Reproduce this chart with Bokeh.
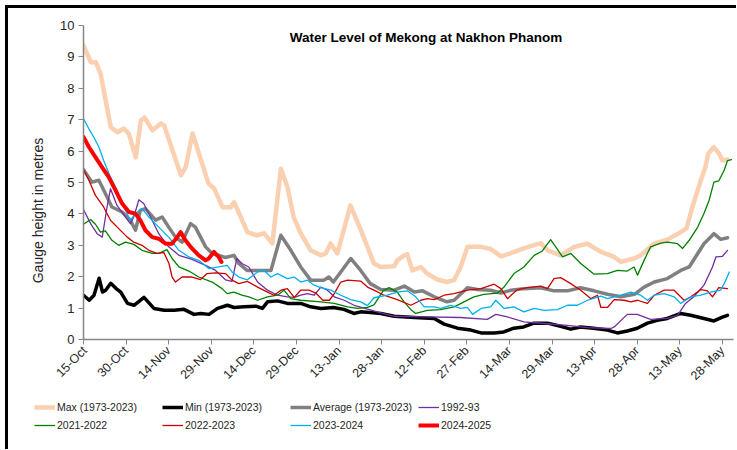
import math
from bokeh.plotting import figure
from bokeh.layouts import column, row
from bokeh.models import Range1d, FixedTicker, Label, Legend, LegendItem
from bokeh.embed import file_html
from bokeh.resources import INLINE

# ---- data (day 0 = 15-Oct) ----
tick_days = [0, 15, 30, 45, 60, 75, 90, 105, 120, 135, 150, 165, 180, 195, 210, 225]
tick_labels = ["15-Oct", "30-Oct", "14-Nov", "29-Nov", "14-Dec", "29-Dec", "13-Jan", "28-Jan",
               "12-Feb", "27-Feb", "14-Mar", "29-Mar", "13-Apr", "28-Apr", "13-May", "28-May"]

max_day = [0, 2.6, 4.3, 6, 9.6, 12, 14.2, 16, 18.4, 20.2, 21.5, 24.3, 27.2, 28.4, 34.3, 36, 38.4, 44, 46, 49,
           51.9, 53, 55.4, 57.7, 61, 63.6, 66.5, 69.5, 71.8, 74, 76.5, 80, 83.6, 85.3, 87, 89.4, 94, 97.6,
           102.3, 104.7, 109.4, 110.5, 112.9, 114, 115.8, 118.8, 121, 124.6, 128, 130.5, 132.8, 135.2, 140,
           143.4, 147, 150.5, 155, 161, 163.4, 168, 172.8, 177.5, 182.2, 186.9, 189.2, 193.9, 196.2, 200.9,
           205.6, 210.3, 212.4, 214.4, 217.4, 219, 220, 222, 223.8, 225, 226.8]
max_val = [9.36, 8.83, 8.83, 8.47, 6.76, 6.6, 6.72, 6.55, 5.8, 6.98, 7.07, 6.66, 6.88, 6.82, 5.23, 5.49, 6.56, 4.97,
           4.81, 4.21, 4.21, 4.37, 3.9, 3.42, 3.32, 3.38, 3.06, 5.44, 4.86, 3.9, 3.38, 2.84, 2.68, 2.74, 3.06,
           2.74, 4.27, 3.5, 2.42, 2.31, 2.33, 2.52, 2.68, 2.72, 2.2, 2.31, 2.1, 1.91, 1.83, 1.89, 2.31, 2.95,
           2.95, 2.88, 2.65, 2.75, 2.9, 3.07, 2.84, 2.68, 2.95, 3.05, 2.79, 2.63, 2.47, 2.58, 2.68, 3.05, 3.18,
           3.42, 3.55, 4.22, 5.07, 5.49, 5.92, 6.13, 5.92, 5.7, 5.73]

min_day = [0, 2, 3.7, 5.5, 6.7, 7.8, 9.6, 11.4, 13.1, 15.5, 17.8, 21.3, 24.8, 28.4, 31.9, 35.4, 38.9, 41.3, 44.2,
           47.2, 50.7, 53, 56.5, 60.7, 63, 64.8, 68.3, 71.8, 76.5, 80, 83.6, 88, 91.7, 95.2, 97.6, 101, 104.7,
           109.4, 116.5, 123.5, 127, 131.7, 136.4, 140, 144.6, 148, 151.5, 155, 158.6, 163.4, 168, 171.6, 175,
           179.6, 184.5, 188, 191.5, 195, 198.6, 202, 205.6, 210.3, 213.8, 218.5, 222, 225, 226.8]
min_val = [1.41, 1.25, 1.41, 1.95, 1.51, 1.57, 1.79, 1.63, 1.51, 1.15, 1.09, 1.34, 0.99, 0.93, 0.93, 0.96, 0.8, 0.83,
           0.8, 0.99, 1.09, 1.02, 1.04, 1.06, 0.99, 1.2, 1.23, 1.15, 1.15, 1.04, 0.99, 1.02, 0.96, 0.83, 0.88,
           0.86, 0.83, 0.74, 0.7, 0.67, 0.49, 0.36, 0.3, 0.21, 0.21, 0.24, 0.36, 0.4, 0.52, 0.52, 0.42, 0.33,
           0.4, 0.36, 0.3, 0.21, 0.27, 0.36, 0.52, 0.61, 0.67, 0.83, 0.77, 0.67, 0.59, 0.71, 0.77]

avg_day = [0, 3, 5.4, 7.7, 10, 13.6, 16.5, 18.3, 20, 21.8, 25.4, 27.7, 30, 32.4, 34.7, 37.7, 39.4, 43, 45.3, 50,
           53, 54.7, 57.6, 66, 69.5, 73, 76.5, 80, 84.7, 86.4, 88, 94.1, 97.6, 101, 104.7, 109.4, 113, 116.5,
           119.4, 123.5, 128, 130.5, 135.2, 138.7, 143.4, 147, 150.5, 155, 161, 165.7, 170.4, 175, 179.8,
           184.5, 189.2, 194, 197.4, 201, 205.6, 210.3, 213.3, 216.3, 218.5, 222, 224.4, 226.8]
avg_val = [5.41, 5.01, 5.07, 4.65, 4.22, 4.06, 3.8, 3.48, 4.11, 4.17, 3.8, 3.9, 3.58, 3.26, 3.1, 3.69, 3.58, 2.95,
           2.74, 2.61, 2.68, 2.42, 2.2, 2.2, 3.32, 2.84, 2.31, 1.89, 1.89, 1.99, 1.83, 2.58, 2.2, 1.78, 1.59,
           1.57, 1.7, 1.51, 1.55, 1.36, 1.2, 1.25, 1.65, 1.59, 1.57, 1.48, 1.57, 1.62, 1.65, 1.55, 1.55, 1.65,
           1.55, 1.44, 1.36, 1.44, 1.67, 1.83, 1.94, 2.2, 2.31, 2.74, 3.05, 3.37, 3.19, 3.24]

y1992_day = [0, 2.5, 4.8, 6.6, 8.3, 9.5, 11.8, 14.8, 16.5, 17.7, 19.5, 21.2, 23.6, 26.5, 30, 33.6, 38.2, 43, 46.5,
             50, 52.3, 54, 55.8, 58.2, 61.3, 64.8, 68.3, 71.8, 74.2, 76.5, 78.9, 81.2, 83.6, 85.9, 88.3, 91.8,
             95.3, 98.8, 104.7, 109.4, 121, 132.8, 142.2, 145.2, 149.3, 155.1, 162.2, 170.4, 177.5, 185.7,
             186.9, 191.5, 195, 199.7, 205.6, 209.2, 212, 214.9, 218.5, 221.5, 222.7, 225, 226.8]
y1992_val = [4.14, 3.69, 3.37, 3.26, 4.22, 4.8, 4.27, 3.9, 3.69, 3.9, 4.45, 4.33, 3.9, 3.37, 2.95, 2.68, 2.55, 2.36,
             2.2, 1.9, 1.85, 2.58, 2.42, 2.31, 1.83, 1.57, 1.41, 1.36, 1.34, 1.41, 1.46, 1.41, 1.67, 1.57, 1.36,
             1.25, 1.09, 1.0, 0.85, 0.74, 0.72, 0.7, 0.64, 0.8, 0.72, 0.56, 0.51, 0.45, 0.38, 0.35, 0.4, 0.8,
             0.8, 0.64, 0.67, 0.77, 1.15, 1.36, 1.73, 2.31, 2.63, 2.65, 2.84]

y2021_day = [0, 2.5, 4.2, 6, 7.7, 10, 12.4, 14.8, 17.7, 20.6, 24.2, 26.5, 29.4, 31.2, 33.6, 37.1, 40.6, 45.3, 48.8,
             50.6, 52.9, 55.8, 58.2, 61.3, 64.8, 68.3, 70.6, 73, 76.5, 83.6, 88.3, 93, 96.5, 100, 102.3, 105.5,
             107.6, 110.5, 112.9, 115.3, 117, 121.1, 125.8, 130.5, 134, 137.5, 141, 145.8, 148.1, 151.6, 155.1,
             158.7, 161.6, 164.5, 166.3, 168.7, 171.6, 175.1, 179.8, 184.5, 188, 191.5, 193.9, 195.1, 197.4,
             199.7, 203.3, 205.6, 209.2, 211, 213.3, 216.3, 218.5, 220.3, 222, 223.7, 225.6, 226.8, 228.2]
y2021_val = [3.67, 3.82, 3.67, 3.42, 3.46, 3.16, 3.0, 3.1, 3.03, 2.84, 2.74, 2.74, 2.86, 2.58, 2.31, 2.18, 1.99, 1.83,
             1.62, 1.46, 1.51, 1.41, 1.36, 1.25, 1.36, 1.41, 1.57, 1.3, 1.25, 1.2, 1.15, 1.04, 0.99, 1.02, 1.1,
             1.55, 1.65, 1.51, 1.2, 0.95, 0.83, 0.93, 0.95, 1.04, 1.2, 1.36, 1.44, 1.48, 1.67, 2.1, 2.31, 2.68,
             2.82, 3.18, 2.95, 2.63, 2.74, 2.42, 2.08, 2.1, 2.2, 2.18, 2.31, 2.05, 2.52, 2.95, 3.07, 3.1, 3.05,
             2.9, 3.16, 3.58, 4.01, 4.43, 5.01, 5.05, 5.39, 5.7, 5.73]

y2022_day = [0, 1.9, 4.2, 7.1, 9.5, 12.4, 15.4, 17.7, 20.6, 23, 25.9, 28.3, 30.1, 31.2, 32.4, 34.7, 38.2, 41.2, 43.5,
             46.5, 50, 52.3, 54.7, 57.7, 61.3, 64.8, 67.1, 69.5, 71.8, 74.2, 76.5, 79.4, 81.8, 84.3, 86.6, 88.3,
             90.6, 93, 97.6, 100, 102.3, 105.8, 110.5, 115.3, 118.8, 121.1, 123.5, 127, 130.5, 135.2, 140, 144.6,
             147, 149.3, 152.8, 156.4, 161, 163.4, 165.7, 168, 171.6, 175.1, 178.7, 181, 182.2, 184.5, 186.9,
             190.4, 192.7, 195.1, 198.6, 201, 204.5, 208, 211.5, 213.9, 217.4, 219.7, 221.5, 223.7, 226.8]
y2022_val = [5.41, 5.07, 4.59, 4.22, 3.8, 3.53, 3.26, 3.1, 3.0, 2.84, 2.74, 2.77, 2.42, 1.99, 1.83, 1.99, 1.99, 1.91,
             2.1, 2.12, 2.1, 1.89, 1.78, 1.85, 1.67, 1.51, 1.41, 1.57, 1.62, 1.34, 1.57, 1.57, 1.48, 1.25, 1.25,
             1.46, 1.83, 1.89, 1.86, 1.67, 1.57, 1.41, 1.27, 1.09, 1.25, 1.3, 1.27, 1.41, 1.46, 1.57, 1.62, 1.76,
             1.62, 1.3, 1.59, 1.65, 1.7, 1.62, 1.94, 1.97, 1.78, 1.57, 1.3, 1.41, 1.02, 1.02, 1.27, 1.25, 1.2,
             1.25, 1.15, 1.41, 1.57, 1.57, 1.25, 1.36, 1.59, 1.55, 1.36, 1.65, 1.62]

y2023_day = [0, 1.9, 3.6, 5.4, 7.1, 9.5, 11.8, 14.2, 16.5, 18.3, 20.6, 23, 26.5, 30, 33.6, 37.1, 40.6, 44.1, 47.6,
             50.6, 52.3, 54.7, 57.7, 61.3, 63.6, 66, 68.3, 71.8, 74.2, 76.5, 78.9, 81.2, 83.6, 87.1, 90.6, 94.1,
             97.6, 100, 102.3, 107, 110.5, 114, 117, 120, 123.5, 125.8, 129.3, 132.8, 135.2, 137, 140, 143.4,
             145.2, 148.1, 151.6, 155.1, 158.7, 162.2, 166.9, 170.4, 173.9, 177.5, 182.2, 184.5, 189.2, 192.7,
             196.2, 198.6, 201, 204.5, 208, 210.3, 213.9, 217.4, 220.9, 224.4, 226.2, 227.4]
y2023_val = [7.03, 6.71, 6.45, 6.13, 5.7, 5.17, 4.75, 4.22, 3.8, 4.01, 4.17, 3.9, 3.58, 3.26, 2.84, 2.63, 2.52, 2.26,
             2.31, 2.36, 2.15, 1.99, 1.9, 2.15, 2.2, 1.99, 2.1, 1.94, 1.99, 1.83, 1.89, 1.73, 1.65, 1.57, 1.41,
             1.27, 1.2, 1.08, 1.33, 1.41, 1.51, 1.55, 1.36, 1.04, 1.04, 0.99, 1.09, 0.99, 1.02, 0.8, 0.99, 1.04,
             1.25, 0.99, 1.04, 0.88, 0.99, 0.93, 0.95, 1.09, 1.09, 1.25, 1.38, 1.3, 1.41, 1.51, 1.41, 1.25, 1.41,
             1.46, 1.36, 1.15, 1.36, 1.41, 1.51, 1.57, 1.89, 2.15]

y2024_day = [0, 1.9, 4.2, 6.5, 8.9, 11.3, 13.6, 16, 18.3, 20, 21.8, 24.2, 26.5, 28.9, 31.2, 33, 34.2, 35.9, 38.2,
             40.6, 43, 44.1, 45.9, 47.6, 48.6]
y2024_val = [6.45, 6.13, 5.81, 5.49, 5.17, 4.75, 4.33, 4.06, 4.01, 3.8, 3.48, 3.26, 3.21, 3.05, 3.05, 3.26, 3.42,
             3.16, 2.9, 2.68, 2.52, 2.58, 2.79, 2.63, 2.47]

series = [
    ("Max (1973-2023)", max_day, max_val, "#FAD0B0", 4.5),
    ("Min (1973-2023)", min_day, min_val, "#000000", 3.5),
    ("Average (1973-2023)", avg_day, avg_val, "#808080", 3.5),
    ("1992-93", y1992_day, y1992_val, "#7030A0", 1.3),
    ("2021-2022", y2021_day, y2021_val, "#008000", 1.3),
    ("2022-2023", y2022_day, y2022_val, "#CC0000", 1.3),
    ("2023-2024", y2023_day, y2023_val, "#00B0F0", 1.3),
    ("2024-2025", y2024_day, y2024_val, "#FF0000", 4.0),
]

FONT = "Liberation Sans"
TXT = "#262626"
AX = "#868686"


def blank(fig):
    fig.xaxis.visible = False
    fig.yaxis.visible = False
    fig.xgrid.visible = False
    fig.ygrid.visible = False
    fig.outline_line_color = None
    fig.border_fill_color = "white"
    fig.background_fill_color = "white"


# --- y-axis title strip (its frame is aligned with the main chart's frame by the row) ---
py = figure(width=45, height=390, output_backend="svg", toolbar_location=None,
            x_range=Range1d(0, 1), y_range=Range1d(0, 1),
            min_border_left=0, min_border_right=0, min_border_top=0, min_border_bottom=0)
blank(py)
py.add_layout(Label(x=29.5, y=129, x_units="screen", y_units="screen", angle=math.pi / 2,
                    text="Gauge height in metres", text_align="center", text_baseline="middle",
                    text_font=FONT, text_font_size="14px", text_color=TXT))

# --- main chart ---
p = figure(width=683, height=390, output_backend="svg", toolbar_location=None,
           x_range=Range1d(0, 228.9), y_range=Range1d(0, 10),
           min_border_left=30, min_border_right=3, min_border_top=17, min_border_bottom=59)
p.xgrid.visible = False
p.ygrid.visible = False
p.outline_line_color = None
p.background_fill_color = "white"
p.border_fill_color = "white"

p.xaxis.ticker = FixedTicker(ticks=tick_days)
p.xaxis.major_label_overrides = {d: lab for d, lab in zip(tick_days, tick_labels)}
p.xaxis.major_label_orientation = math.pi / 4
p.yaxis.ticker = FixedTicker(ticks=list(range(0, 11)))
for ax in (p.xaxis, p.yaxis):
    ax.axis_line_color = AX
    ax.axis_line_width = 1.5
    ax.major_tick_line_color = AX
    ax.minor_tick_line_color = None
    ax.major_tick_out = 5
    ax.major_tick_in = 0
    ax.major_label_text_font = FONT
    ax.major_label_text_color = TXT
    ax.major_label_standoff = 4
p.xaxis.major_label_text_font_size = "12.5px"
p.yaxis.major_label_text_font_size = "13px"

for name, xs, ys, col, lw in series:
    p.line(xs, ys, line_color=col, line_width=lw, line_join="round", line_cap="round")

p.add_layout(Label(x=342.5, y=302, x_units="screen", y_units="screen",
                   text="Water Level of Mekong at Nakhon Phanom", text_align="center",
                   text_baseline="middle", text_font=FONT, text_font_style="bold",
                   text_font_size="13.5px", text_color="#000000"))

# --- legend strip (series drawn outside its visible range; only the legend shows) ---
pl = figure(width=728, height=51, output_backend="svg", toolbar_location=None,
            x_range=Range1d(0, 228.9), y_range=Range1d(-100, -99),
            min_border_left=0, min_border_right=0, min_border_top=0, min_border_bottom=0)
blank(pl)
items = []
for name, xs, ys, col, lw in series:
    r = pl.line(xs, ys, line_color=col, line_width=lw, line_cap="butt")
    items.append(LegendItem(label=name, renderers=[r]))
legend = Legend(items=items, location=(26, 15), orientation="horizontal", ncols=4,
                glyph_width=21, glyph_height=18, label_height=18, label_width=105,
                label_standoff=2, spacing=0, padding=0, margin=0,
                border_line_alpha=0, background_fill_alpha=0,
                label_text_font=FONT, label_text_font_size="10.5px",
                label_text_color=TXT)
pl.add_layout(legend)

layout = column(row(py, p), pl,
                styles={"margin-left": "5px", "margin-top": "5px",
                        "border-left": "3px solid black", "border-top": "3px solid black"})

open("out.html", "w").write(file_html(layout, INLINE))
